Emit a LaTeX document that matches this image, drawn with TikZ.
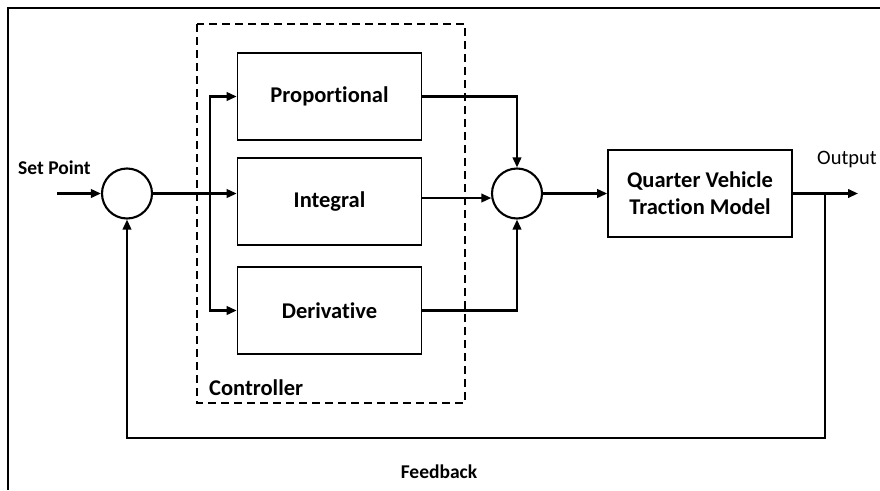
\documentclass[tikz,border=0pt]{standalone}
\usepackage{fontspec}
\setmainfont{Carlito}[Ligatures=NoCommon]
\usetikzlibrary{arrows.meta,positioning}

\tikzset{
  block/.style={draw,line width=1.6pt,minimum width=184pt,minimum height=87pt,inner sep=0pt,font=\bfseries\fontsize{22.5}{27}\selectfont,align=center},
  sumnode/.style={draw,circle,line width=2.1pt,minimum size=50pt,inner sep=0pt},
  flow/.style={line width=2.2pt,-{Triangle[length=10pt,width=8.5pt]}},
  lbl/.style={font=\bfseries\fontsize{19.5}{22}\selectfont,inner sep=0pt}
}

\begin{document}
\begin{tikzpicture}[x=1pt,y=-1pt]
    \clip (0,0) rectangle (880,490);
    \fill[white] (0,0) rectangle (880,490);
    \draw[line width=1.5pt] (8,490) -- (8,8) -- (880,8);

    % controller blocks
    \node[sumnode] (sum1) at (127,193.5) {};
    \node[block] (prop) at (329.5,96.5) {Proportional};
    \node[block] (int) at (329.5,201.5) {Integral};
    \node[block] (deriv) at (329.5,310.5) {Derivative};
    \node[sumnode] (sum2) at (517,193.5) {};
    \node[block] (plant) at (700,193.5) {Quarter Vehicle\\Traction Model};
    \draw[line width=1.6pt,dash pattern=on 8pt off 5pt] (197,24) rectangle (465,403);

    % labels
    \node[lbl,anchor=west] (setpt) at (18,168) {Set Point};
    \node[lbl,anchor=west,font=\bfseries\fontsize{22.5}{27}\selectfont] (ctrl) at (209,388) {Controller};
    \node[lbl] (fblbl) at (439,472) {Feedback};
    \node[font=\fontsize{20.5}{24}\selectfont,anchor=west,inner sep=0pt] (outlbl) at (817,159) {Output};

    % signal paths
    \coordinate (in) at (57,193.5);
    \coordinate (split) at (210,193.5);
    \coordinate (out) at (858,193.5);
    \coordinate (tap) at (825,193.5);
    \coordinate (fb) at (825,438);
    \draw[flow] (in) -- (sum1);
    \draw[flow] (sum1) -- (sum1 -| int.west);
    \draw[flow] (split) |- (prop.west);
    \draw[flow] (split) |- (deriv.west);
    \draw[flow] (prop.east) -| (sum2.north);
    \draw[flow] (int.east |- sum2.190) -- (sum2.190);
    \draw[flow] (deriv.east) -| (sum2.south);
    \draw[flow] (sum2) -- (plant);
    \draw[flow] (plant.east) -- (out);
    \draw[flow] (tap) -- (fb) -| (sum1.south);
\end{tikzpicture}
\end{document}
